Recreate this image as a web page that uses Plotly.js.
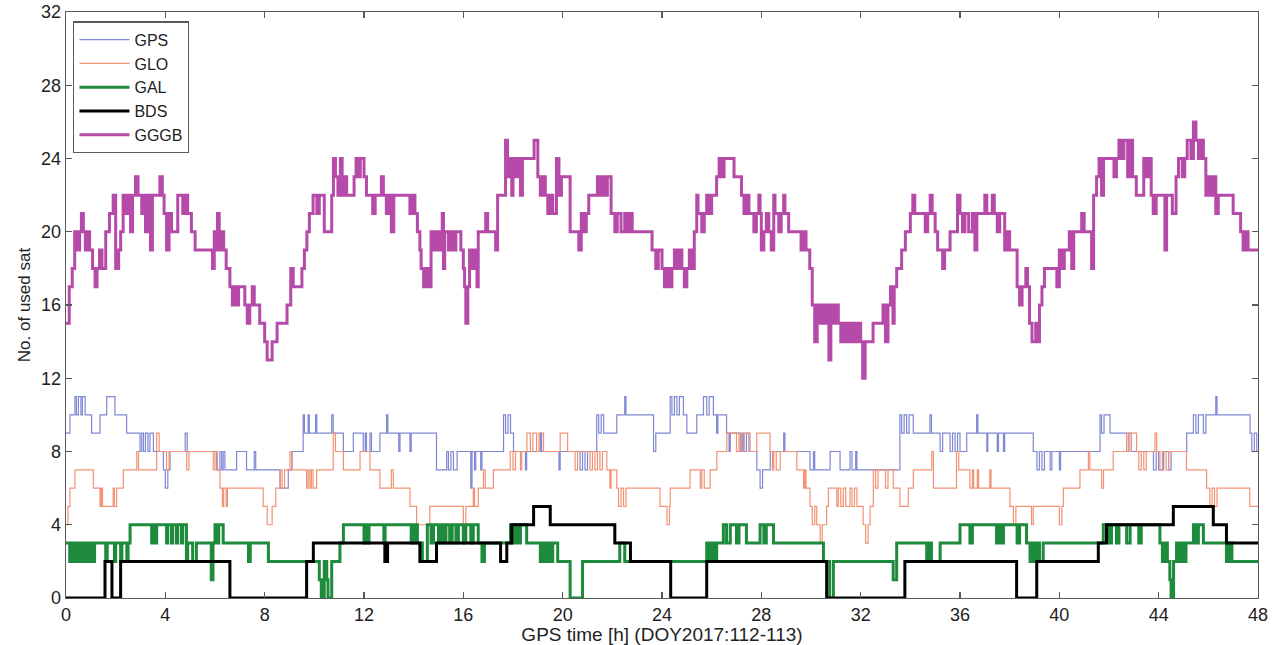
<!DOCTYPE html>
<html>
<head>
<meta charset="utf-8">
<script src="https://cdn.plot.ly/plotly-3.0.1.min.js"></script>
<style>
html,body{margin:0;padding:0;background:#fff;}
#chart{width:1283px;height:645px;}
</style>
</head>
<body>
<div id="chart"></div>
<script>
// GPS time [h], number of used satellites (step changes)
const seriesNames = ["GPS", "GLO", "GAL", "BDS", "GGGB"];
const xTicks = [0,4,8,12,16,20,24,28,32,36,40,44,48];
const yTicks = [0,4,8,12,16,20,24,28,32];

const gpsSteps = [[0,9],[0.16,10],[0.36,11],[0.42,10],[0.5,11],[0.6,10],[0.66,11],[0.77,10],[1.03,9],[1.37,10],[1.64,11],[1.97,10],[2.44,9],[2.98,8],[3.05,9],[3.12,8],[3.2,9],[3.3,8],[3.38,9],[3.52,8],[3.92,7],[4.0,6],[4.1,7],[4.19,8],[4.8,9],[4.88,8],[6.07,7],[6.2,8],[6.27,7],[6.33,8],[6.4,7],[6.87,8],[7.27,7],[7.58,8],[7.64,7],[8.62,6],[8.95,7],[9.1,8],[9.55,10],[9.6,9],[9.75,10],[9.8,9],[10.05,10],[10.1,9],[10.7,10],[10.76,9],[11.17,8],[11.57,9],[11.97,8],[12.05,9],[12.1,8],[12.24,9],[12.3,8],[12.64,9],[12.91,10],[12.96,9],[13.4,8],[13.45,9],[13.85,8],[13.9,9],[14.92,7],[15.33,8],[15.4,7],[15.5,8],[15.6,7],[15.75,8],[16.3,6],[16.35,8],[16.45,7],[16.5,8],[16.7,7],[16.75,8],[17.62,10],[17.7,9],[17.8,10],[17.9,9],[18.02,8],[18.5,7],[18.55,8],[19.1,9],[19.15,8],[19.85,7],[19.9,8],[20.7,7],[20.8,8],[20.9,7],[21.0,8],[21.37,10],[21.45,9],[21.55,10],[21.65,9],[22.18,10],[22.5,11],[22.55,10],[23.66,8],[23.75,9],[24.33,11],[24.4,10],[24.5,11],[24.6,10],[24.7,11],[24.86,10],[25.0,9],[25.4,10],[25.67,11],[25.8,10],[25.9,11],[26.07,10],[26.2,9],[26.25,10],[26.6,9],[26.7,8],[26.75,9],[27.15,8],[27.25,9],[27.3,8],[27.4,9],[27.5,8],[27.82,7],[27.95,6],[28.05,7],[28.36,8],[28.9,9],[28.95,8],[29.96,7],[30.1,8],[30.15,7],[30.77,8],[31.17,7],[31.57,8],[31.65,7],[31.8,8],[31.85,7],[33.58,10],[33.65,9],[33.75,10],[33.85,9],[33.95,10],[34.12,9],[34.79,10],[34.85,9],[35.2,8],[35.3,9],[35.6,8],[35.7,9],[35.8,8],[35.9,9],[36.0,8],[36.27,9],[36.67,10],[36.72,9],[37.08,8],[37.12,9],[37.5,8],[37.55,9],[37.75,8],[37.8,9],[38.95,8],[39.1,7],[39.2,8],[39.3,7],[39.4,8],[39.63,7],[39.7,8],[40.0,7],[40.05,8],[41.64,10],[41.7,9],[41.8,10],[42.04,9],[42.71,8],[42.8,9],[42.9,8],[43.79,7],[43.9,8],[44.0,7],[44.2,8],[44.4,7],[44.5,8],[45.13,9],[45.4,10],[45.5,9],[45.6,10],[45.8,9],[45.9,10],[46.3,11],[46.35,10],[47.68,9],[47.75,8],[47.85,9],[47.95,8],[48,8]];

const gloSteps = [[0,4],[0.08,5],[0.16,6],[0.36,7],[1.1,6],[1.37,5],[1.42,6],[1.47,5],[1.9,6],[1.95,5],[2.04,6],[2.31,7],[2.85,8],[2.92,7],[3.65,9],[3.75,8],[4.05,7],[4.15,8],[4.86,7],[4.95,8],[5.93,7],[6.0,8],[6.1,7],[6.2,6],[6.3,5],[6.35,6],[6.45,5],[6.5,6],[7.94,5],[8.1,4],[8.3,5],[8.45,6],[8.62,7],[8.7,6],[8.8,7],[9.02,8],[9.1,7],[9.69,6],[9.75,7],[9.82,6],[9.88,7],[9.95,6],[10.09,7],[10.76,9],[10.85,8],[11.17,7],[11.84,8],[12.24,7],[12.64,6],[13.1,7],[13.18,6],[13.85,5],[14.12,4],[14.65,5],[16.0,4],[16.1,5],[16.4,6],[16.45,5],[16.6,6],[16.81,7],[16.88,6],[17.21,7],[17.89,8],[18.0,7],[18.1,8],[18.3,7],[18.35,8],[18.56,9],[18.7,8],[18.8,9],[18.95,8],[19.05,9],[19.23,8],[19.9,9],[20.2,8],[20.5,7],[20.6,8],[21.1,7],[21.2,8],[21.3,7],[21.4,8],[21.5,7],[21.6,8],[21.78,7],[21.9,6],[21.95,7],[22.18,6],[22.25,5],[22.35,6],[22.45,5],[22.55,6],[23.92,5],[24.2,4],[24.3,5],[24.33,6],[25.13,7],[25.54,6],[25.6,7],[25.7,6],[25.94,7],[26.21,8],[26.61,9],[27.0,8],[27.1,9],[27.2,8],[27.3,9],[27.55,8],[27.82,9],[28.35,8],[28.45,7],[28.5,8],[28.6,7],[28.76,8],[29.43,7],[29.7,6],[29.75,7],[29.8,6],[29.96,5],[30.05,4],[30.15,5],[30.23,4],[30.37,3],[30.45,4],[30.63,5],[30.7,6],[31.04,5],[31.1,6],[31.2,5],[31.3,6],[31.4,5],[31.57,6],[31.65,5],[31.75,6],[31.85,5],[32.1,4],[32.2,3],[32.3,4],[32.38,5],[32.51,7],[32.6,6],[32.7,7],[33.0,6],[33.1,7],[33.31,6],[33.58,5],[33.92,6],[34.12,7],[34.86,8],[34.93,6],[35.86,8],[35.95,7],[36.4,6],[36.5,7],[36.55,6],[36.7,7],[36.75,6],[37.2,7],[37.25,6],[38.01,5],[38.15,4],[38.25,5],[38.88,4],[38.95,5],[40.0,4],[40.1,5],[40.16,6],[40.83,7],[41.17,8],[41.23,7],[41.7,6],[41.78,7],[42.17,8],[42.71,9],[42.8,8],[42.9,9],[43.11,8],[43.2,7],[43.3,8],[43.4,7],[43.5,8],[43.85,9],[43.92,8],[44.05,7],[44.15,8],[44.3,7],[44.4,8],[45.12,7],[45.93,6],[46.06,5],[46.15,6],[46.25,5],[46.35,6],[47.67,5],[48,5]];

const galSteps = [[0,3],[0.15,2],[0.25,3],[0.3,2],[0.4,3],[0.45,2],[0.55,3],[0.6,2],[0.7,3],[0.75,2],[0.85,3],[0.9,2],[1.0,3],[1.05,2],[1.15,3],[1.6,2],[1.66,3],[1.95,2],[2.0,3],[2.2,2],[2.25,3],[2.45,2],[2.5,3],[2.58,4],[3.45,3],[3.5,4],[3.6,3],[3.65,4],[4.05,3],[4.1,4],[4.25,3],[4.3,4],[4.45,3],[4.5,4],[4.65,3],[4.7,4],[4.85,2],[4.9,3],[5.1,2],[5.25,3],[5.85,1],[5.92,3],[6.0,4],[6.1,3],[6.15,4],[6.33,3],[7.35,2],[7.42,3],[8.15,2],[10.2,1],[10.28,0],[10.4,2],[10.5,1],[10.55,0],[10.7,2],[11.03,3],[11.17,4],[12.0,3],[12.05,4],[12.15,3],[12.2,4],[12.8,3],[12.85,4],[13.9,3],[13.95,4],[14.0,3],[14.1,4],[14.15,3],[14.35,2],[14.55,4],[14.7,3],[14.8,4],[15.0,3],[15.1,4],[15.2,3],[15.3,4],[15.45,3],[15.55,4],[15.7,3],[15.8,4],[16.0,3],[16.1,4],[16.3,3],[16.4,4],[16.6,3],[16.75,2],[16.85,3],[17.9,4],[18.0,3],[18.1,4],[18.2,3],[18.3,4],[18.55,3],[19.1,2],[19.2,3],[19.3,2],[19.4,3],[19.5,2],[19.6,3],[19.8,2],[20.3,0],[20.8,2],[22.3,3],[22.5,2],[25.8,3],[25.9,2],[26.0,3],[26.1,2],[26.2,3],[26.47,4],[26.6,3],[26.75,4],[27.0,3],[27.1,4],[27.4,3],[27.95,4],[28.1,3],[28.2,4],[28.49,3],[30.5,2],[30.75,0],[30.9,2],[33.31,1],[33.45,3],[34.66,2],[34.75,3],[34.85,2],[35.2,3],[36.0,4],[36.4,3],[36.5,4],[37.47,3],[37.55,4],[37.65,3],[37.75,4],[38.3,3],[38.4,4],[38.68,3],[38.82,2],[38.9,3],[39.0,2],[39.1,3],[39.2,2],[39.35,3],[41.77,4],[42.0,3],[42.1,4],[42.3,3],[42.4,4],[42.71,3],[42.85,4],[43.2,3],[43.3,4],[44.05,3],[44.15,2],[44.25,3],[44.35,2],[44.45,1],[44.5,0],[44.6,2],[44.72,3],[44.8,2],[44.9,3],[45.0,2],[45.1,3],[45.4,4],[45.5,3],[45.6,4],[45.8,3],[46.73,2],[46.85,3],[46.95,2],[48,2]];

const bdsSteps = [[0,0],[1.57,2],[1.85,0],[2.2,2],[6.6,0],[9.69,2],[9.96,3],[12.84,2],[12.95,3],[14.25,2],[14.92,3],[17.5,2],[17.75,3],[17.95,4],[18.83,5],[19.5,4],[22.1,3],[22.73,2],[24.35,0],[25.8,2],[30.63,0],[33.78,2],[38.28,0],[39.09,2],[41.57,3],[41.9,4],[44.59,5],[46.2,4],[46.73,3],[48,3]];

const gggbSteps = [[0,15],[0.13,17],[0.25,18],[0.35,20],[0.45,19],[0.55,20],[0.62,21],[0.7,20],[0.78,19],[0.85,20],[0.95,19],[1.07,18],[1.17,17],[1.25,18],[1.35,19],[1.45,18],[1.6,20],[1.75,21],[1.9,22],[2.0,18],[2.12,19],[2.2,20],[2.3,22],[2.4,21],[2.5,22],[2.6,20],[2.68,22],[2.8,23],[2.9,22],[3.05,21],[3.12,22],[3.2,20],[3.28,22],[3.4,19],[3.48,22],[3.78,23],[3.88,22],[3.95,21],[4.05,19],[4.15,21],[4.25,20],[4.5,22],[4.7,21],[4.8,22],[4.9,21],[5.05,20],[5.2,19],[5.9,18],[5.97,20],[6.05,19],[6.1,21],[6.17,19],[6.25,20],[6.35,19],[6.45,18],[6.6,17],[6.7,16],[6.78,17],[6.85,16],[6.95,17],[7.2,16],[7.3,15],[7.4,16],[7.5,17],[7.58,16],[7.8,15],[8.0,14],[8.1,13],[8.3,14],[8.5,15],[8.9,16],[9.05,18],[9.15,17],[9.5,18],[9.6,19],[9.7,20],[9.8,21],[9.95,22],[10.1,21],[10.2,22],[10.4,20],[10.7,22],[10.77,24],[10.85,23],[10.95,22],[11.05,24],[11.12,22],[11.2,23],[11.3,22],[11.6,23],[11.68,24],[11.75,23],[11.85,24],[12.0,23],[12.1,22],[12.35,21],[12.45,22],[12.7,23],[12.78,22],[12.9,21],[13.0,22],[13.1,20],[13.2,22],[13.85,21],[13.95,22],[14.05,21],[14.15,20],[14.25,19],[14.3,18],[14.4,17],[14.5,18],[14.6,17],[14.7,20],[14.8,19],[14.9,20],[15.0,19],[15.1,20],[15.15,21],[15.2,18],[15.25,20],[15.4,19],[15.5,20],[15.6,19],[15.7,20],[15.9,19],[16.0,18],[16.05,17],[16.1,15],[16.18,17],[16.25,19],[16.35,18],[16.45,19],[16.55,17],[16.6,20],[16.9,21],[16.98,20],[17.3,19],[17.38,22],[17.7,25],[17.78,23],[17.85,24],[17.95,22],[18.0,24],[18.1,23],[18.2,24],[18.3,22],[18.38,24],[18.85,25],[19.0,23],[19.1,22],[19.2,23],[19.3,22],[19.4,21],[19.5,22],[19.6,21],[19.75,24],[19.85,22],[19.95,23],[20.3,20],[20.65,19],[20.75,21],[20.85,20],[20.95,21],[21.05,22],[21.4,23],[21.5,22],[21.6,23],[21.7,22],[21.8,23],[21.95,21],[22.1,20],[22.2,21],[22.35,20],[22.5,21],[22.6,20],[22.7,21],[22.8,20],[23.6,19],[23.75,18],[23.85,19],[24.0,18],[24.1,17],[24.2,18],[24.3,17],[24.4,18],[24.5,19],[24.6,18],[24.7,19],[24.8,18],[24.9,17],[25.0,18],[25.1,19],[25.2,18],[25.3,20],[25.4,22],[25.45,21],[25.6,20],[25.7,21],[25.8,22],[25.9,21],[26.0,22],[26.2,23],[26.3,24],[26.4,23],[26.5,24],[26.9,23],[27.2,22],[27.3,21],[27.4,22],[27.5,21],[27.7,20],[27.8,21],[27.9,22],[27.95,21],[28.0,19],[28.1,20],[28.2,21],[28.3,20],[28.4,19],[28.5,22],[28.55,21],[28.7,20],[28.8,21],[28.9,22],[28.95,21],[29.1,20],[29.6,19],[29.7,20],[29.8,19],[29.95,18],[30.05,16],[30.15,14],[30.25,16],[30.35,15],[30.45,16],[30.55,15],[30.65,16],[30.72,13],[30.8,16],[30.9,15],[31.0,16],[31.1,15],[31.2,14],[31.3,15],[31.4,14],[31.5,15],[31.6,14],[31.7,15],[31.8,14],[31.9,15],[32.0,14],[32.08,12],[32.18,14],[32.5,15],[32.9,16],[33.0,14],[33.1,16],[33.2,17],[33.3,15],[33.35,17],[33.45,18],[33.65,19],[33.8,20],[34.0,21],[34.1,22],[34.18,21],[34.6,20],[34.7,21],[34.8,22],[34.88,21],[35.0,20],[35.1,19],[35.3,18],[35.38,19],[35.6,20],[35.9,22],[36.0,21],[36.1,20],[36.2,21],[36.35,20],[36.5,21],[36.6,19],[36.68,21],[37.0,22],[37.08,21],[37.3,22],[37.38,21],[37.5,20],[37.6,21],[37.8,19],[37.88,20],[38.0,19],[38.3,17],[38.4,16],[38.5,17],[38.65,18],[38.72,17],[38.8,15],[38.9,14],[39.05,15],[39.15,14],[39.2,16],[39.3,17],[39.4,18],[39.9,17],[40.0,19],[40.1,18],[40.2,19],[40.4,20],[40.5,18],[40.58,20],[40.9,21],[41.0,20],[41.3,18],[41.38,22],[41.5,23],[41.6,24],[41.7,22],[41.78,24],[42.2,23],[42.3,24],[42.4,25],[42.5,24],[42.6,25],[42.75,23],[42.85,25],[42.95,23],[43.1,22],[43.4,24],[43.5,23],[43.6,24],[43.7,22],[43.78,21],[43.9,22],[44.25,19],[44.32,22],[44.55,21],[44.7,23],[44.8,24],[44.95,23],[45.05,24],[45.15,25],[45.3,24],[45.4,26],[45.5,25],[45.6,24],[45.7,25],[45.8,24],[45.9,22],[46.0,23],[46.1,22],[46.2,23],[46.3,21],[46.4,22],[47.0,21],[47.3,20],[47.4,19],[47.5,20],[47.6,19],[48,19]];

const steps = [gpsSteps, gloSteps, galSteps, bdsSteps, gggbSteps];
const colors = ["#7f88d4", "#f29274", "#1d8a3c", "#000000", "#b54aa8"];
const widths = [1.2, 1.2, 3, 3, 3];

const traces = steps.map((s, i) => ({
  type: "scatter",
  mode: "lines",
  name: seriesNames[i],
  x: s.map(p => p[0]),
  y: s.map(p => p[1]),
  line: {shape: "hv", color: colors[i], width: widths[i]},
  hoverinfo: "x+y+name"
}));

const FONT = "Liberation Sans, Arial, sans-serif";
const axisCommon = {
  showline: true, mirror: "ticks", linecolor: "#5a5a5a", linewidth: 1.4,
  ticks: "inside", ticklen: 6, tickcolor: "#5a5a5a", tickwidth: 1.4,
  showgrid: false, zeroline: false,
  tickfont: {family: FONT, size: 18, color: "#222"}
};

const layout = {
  width: 1283, height: 645,
  margin: {l: 66, r: 25, t: 12, b: 47},
  paper_bgcolor: "#ffffff", plot_bgcolor: "#ffffff",
  font: {family: FONT, size: 16, color: "#222"},
  showlegend: true,
  legend: {
    x: 0.006, y: 0.984, xanchor: "left", yanchor: "top",
    bgcolor: "#ffffff", bordercolor: "#5a5a5a", borderwidth: 1.3,
    font: {family: FONT, size: 16, color: "#222"},
    itemwidth: 50, tracegroupgap: 0
  },
  xaxis: Object.assign({}, axisCommon, {
    range: [0, 48], tickvals: xTicks, ticktext: xTicks.map(String),
    title: {text: "GPS time [h] (DOY2017:112-113)", standoff: 0,
            font: {family: FONT, size: 19, color: "#222"}}
  }),
  yaxis: Object.assign({}, axisCommon, {
    range: [0, 32], tickvals: yTicks, ticktext: yTicks.map(String),
    title: {text: "No. of used sat", standoff: 6,
            font: {family: FONT, size: 17, color: "#222"}}
  })
};

Plotly.newPlot("chart", traces, layout, {displayModeBar: false, staticPlot: true});
</script>
</body>
</html>
